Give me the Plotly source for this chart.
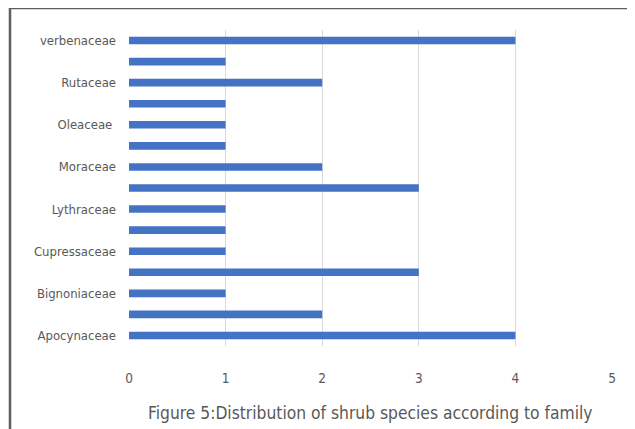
import plotly.graph_objects as go

# families, bottom to top (Excel only prints every second label)
families = ["Apocynaceae", "Asteraceae", "Bignoniaceae", "Caesalpiniaceae",
            "Cupressaceae", "Euphorbiaceae", "Lythraceae", "Malvaceae",
            "Moraceae", "Nyctaginaceae", "Oleaceae ", "Rosaceae",
            "Rutaceae", "Solanaceae", "verbenaceae"]
species_count = [4, 2, 1, 3, 1, 1, 1, 3, 2, 1, 1, 1, 2, 1, 4]
shown_labels = families[::2]
x_ticks = [0, 1, 2, 3, 4, 5]

GRAY = "#595959"
FONT = "DejaVu Sans Condensed, Liberation Sans Narrow, sans-serif"

fig = go.Figure()
fig.add_trace(go.Bar(
    y=families, x=species_count, orientation="h",
    marker=dict(color="#4472C4", line=dict(width=0)),
    width=0.36,
))

# page body has an 8px margin, so the figure is a bit smaller than the window
fig.update_layout(
    width=627, height=421,
    margin=dict(l=121, r=23, t=22, b=83),
    paper_bgcolor="white", plot_bgcolor="white",
    font=dict(family=FONT, color=GRAY, size=13),
    showlegend=False,
    shapes=[
        dict(type="line", xref="paper", yref="paper",
             x0=-0.2464, x1=-0.2464, y0=-0.4, y1=1.0696,
             line=dict(color="#5f5f5f", width=2.5)),
        dict(type="line", xref="paper", yref="paper",
             x0=-0.2464, x1=1.1, y0=1.0696, y1=1.0696,
             line=dict(color="#5f5f5f", width=2.5)),
    ],
    annotations=[dict(
        text="Figure 5:Distribution of shrub species according to family",
        xref="paper", yref="paper", x=0.5, y=-0.212,
        xanchor="center", yanchor="middle", showarrow=False,
        font=dict(size=17.3, color=GRAY, family=FONT),
    )],
)
fig.update_xaxes(
    range=[0, 5], tickvals=x_ticks, showgrid=True, gridcolor="#d9d9d9",
    gridwidth=1, zeroline=False, showline=False, ticklabelstandoff=22,
    tickfont=dict(size=13.5, color=GRAY),
)
fig.update_yaxes(
    categoryorder="array", categoryarray=families,
    tickvals=shown_labels, ticktext=shown_labels,
    showgrid=False, showline=False, ticklabelstandoff=12,
    tickfont=dict(size=13, color=GRAY),
)

fig.write_html("out.html")
